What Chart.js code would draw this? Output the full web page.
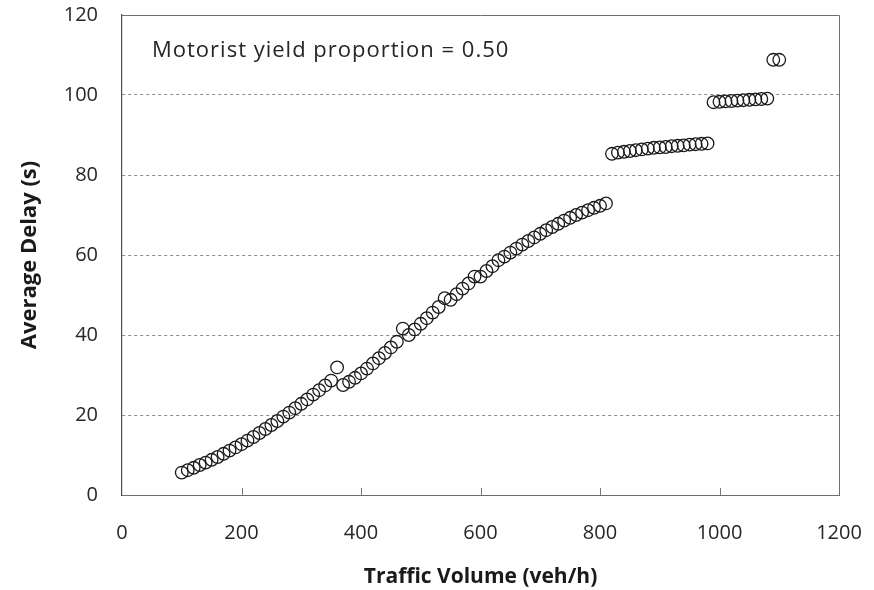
<!DOCTYPE html>
<html>
<head>
<meta charset="utf-8">
<script src="https://cdn.jsdelivr.net/npm/chart.js@4"></script>
<style>
  html, body { margin: 0; padding: 0; background: #fff; }
  #wrap { width: 874px; height: 590px; }
</style>
</head>
<body>
<div id="wrap"><canvas id="delayChart" width="874" height="590"></canvas></div>
<script>

// traffic volume (veh/h)
const volumes = [
    100, 110, 120, 130, 140, 150, 160, 170, 180, 190,
    200, 210, 220, 230, 240, 250, 260, 270, 280, 290,
    300, 310, 320, 330, 340, 350, 360, 370, 380, 390,
    400, 410, 420, 430, 440, 450, 460, 470, 480, 490,
    500, 510, 520, 530, 540, 550, 560, 570, 580, 590,
    600, 610, 620, 630, 640, 650, 660, 670, 680, 690,
    700, 710, 720, 730, 740, 750, 760, 770, 780, 790,
    800, 810, 820, 830, 840, 850, 860, 870, 880, 890,
    900, 910, 920, 930, 940, 950, 960, 970, 980, 990,
    1000, 1010, 1020, 1030, 1040, 1050, 1060, 1070, 1080, 1090,
    1100
];

// average delay (s)
const delays = [
    5.6, 6.2, 6.8, 7.5, 8.1, 8.8, 9.5, 10.3, 11.1, 11.9,
    12.7, 13.6, 14.5, 15.5, 16.5, 17.5, 18.5, 19.6, 20.6, 21.7,
    22.8, 23.9, 25.1, 26.2, 27.4, 28.6, 31.9, 27.5, 28.3, 29.3,
    30.4, 31.6, 32.9, 34.2, 35.5, 36.9, 38.3, 41.6, 40.0, 41.4,
    42.8, 44.2, 45.6, 47.0, 49.2, 48.8, 50.2, 51.6, 52.9, 54.6,
    54.6, 56.0, 57.2, 58.7, 59.6, 60.6, 61.6, 62.6, 63.5, 64.4,
    65.3, 66.2, 67.0, 67.8, 68.6, 69.3, 70.0, 70.6, 71.2, 71.8,
    72.3, 72.9, 85.3, 85.6, 85.8, 86.0, 86.2, 86.4, 86.6, 86.8,
    86.9, 87.0, 87.2, 87.3, 87.4, 87.6, 87.7, 87.8, 87.9, 98.2,
    98.3, 98.4, 98.5, 98.6, 98.7, 98.8, 98.9, 99.0, 99.1, 108.8,
    108.8
];

const xTicks = [0, 200, 400, 600, 800, 1000, 1200];
const yTicks = [0, 20, 40, 60, 80, 100, 120];

const note = "Motorist yield proportion = 0.50";

const FONT = "'Open Sans', 'DejaVu Sans', sans-serif";

// box on top/right, inward x ticks and the note
const frame = {
    id: "frame",
    afterDraw(chart) {
        const c = chart.ctx;
        const a = chart.chartArea;
        const xs = chart.scales.x;
        c.save();
        c.strokeStyle = "#6e6e6e";
        c.lineWidth = 1;
        c.beginPath();
        c.moveTo(a.left, a.top + 0.5);
        c.lineTo(a.right + 0.5, a.top + 0.5);
        c.lineTo(a.right + 0.5, a.bottom);
        c.stroke();

        c.strokeStyle = "#7a7a7a";
        c.beginPath();
        xTicks.slice(1, -1).forEach(v => {
            const px = Math.round(xs.getPixelForValue(v)) + 0.5;
            c.moveTo(px, a.bottom);
            c.lineTo(px, a.bottom - 7);
        });
        c.stroke();

        c.fillStyle = "#262626";
        c.font = "22px " + FONT;
        c.letterSpacing = "1px";
        c.textBaseline = "middle";
        c.textAlign = "left";
        c.fillText(note, a.left + 30, a.top + 36);
        c.restore();
    }
};

const ctx = document.getElementById("delayChart");

new Chart(ctx, {
    type: "scatter",
    data: {
        datasets: [{
            label: "Average Delay",
            data: volumes.map((v, i) => ({ x: v, y: delays[i] })),
            pointStyle: "circle",
            pointRadius: 6.3,
            pointBorderWidth: 1.3,
            pointBorderColor: "#1a1a1a",
            pointBackgroundColor: "rgba(0,0,0,0)",
            showLine: false
        }]
    },
    options: {
        responsive: false,
        animation: false,
        layout: { padding: { top: 15, right: 35, left: 0, bottom: 0 } },
        plugins: {
            legend: { display: false },
            tooltip: { enabled: false }
        },
        scales: {
            x: {
                type: "linear",
                min: 0,
                max: 1200,
                afterBuildTicks: s => { s.ticks = xTicks.map(v => ({ value: v })); },
                afterFit: s => { s.height = 95; s.paddingLeft = 0; s.paddingRight = 0; },
                grid: { display: false, drawTicks: false },
                border: { display: true, color: "#6e6e6e", width: 1 },
                ticks: {
                    padding: 26,
                    color: "#262626",
                    font: { family: FONT, size: 20 },
                    maxRotation: 0,
                    callback: v => String(v)
                },
                title: {
                    display: true,
                    text: "Traffic Volume (veh/h)",
                    color: "#1a1a1a",
                    font: { family: FONT, size: 21, weight: "bold" },
                    padding: { top: 4, bottom: 0 }
                }
            },
            y: {
                type: "linear",
                min: 0,
                max: 120,
                afterBuildTicks: s => { s.ticks = yTicks.map(v => ({ value: v })); },
                afterFit: s => { s.width = 122; s.paddingTop = 0; s.paddingBottom = 0; },
                grid: {
                    drawTicks: false,
                    color: c => (c.tick && (c.tick.value === 0 || c.tick.value === 120)) ? "rgba(0,0,0,0)" : "#8c8c8c",
                    lineWidth: 1
                },
                border: { display: true, color: "#4d4d4d", width: 1.2, dash: [3, 3] },
                ticks: {
                    padding: 24,
                    color: "#262626",
                    font: { family: FONT, size: 20 },
                    callback: v => String(v)
                },
                title: {
                    display: true,
                    text: "Average Delay (s)",
                    color: "#1a1a1a",
                    font: { family: FONT, size: 22, weight: "bold" },
                    padding: { top: 17, bottom: 0 }
                }
            }
        }
    },
    plugins: [frame]
});

</script>
</body>
</html>
